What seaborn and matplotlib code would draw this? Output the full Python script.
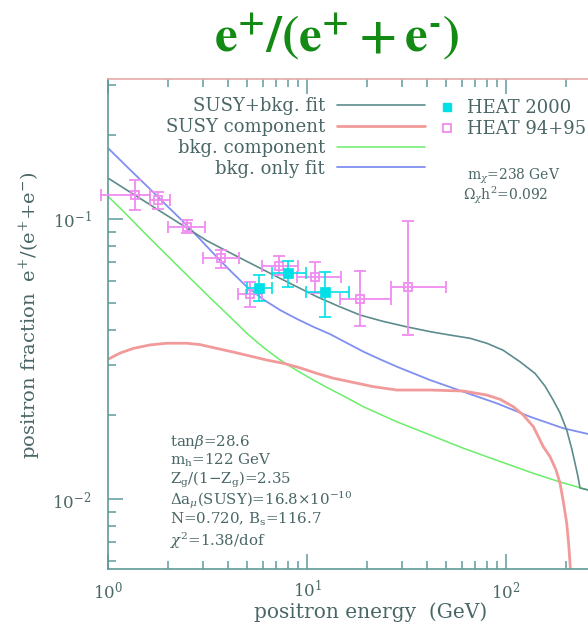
import numpy as np
import matplotlib
matplotlib.use("Agg")
import matplotlib.pyplot as plt
import seaborn as sns
from matplotlib.lines import Line2D
from matplotlib.ticker import LogLocator, LogFormatterMathtext, NullFormatter

# ---------------- data ----------------
fit_E = [1.0, 1.217, 1.504, 1.934, 2.466, 3.133, 4.607, 7.317, 11.19, 14.31, 18.46, 24.09,
         31.7, 41.5, 52.3, 65.9, 80.0, 96.6, 117.6, 139.8, 157.0, 172.3, 186.8, 201.8,
         214.6, 222.2, 230.0, 235.4, 258.2]
fit_frac = [0.140, 0.1281, 0.1165, 0.1040, 0.0933, 0.0837, 0.0726, 0.0614, 0.0528, 0.0489,
            0.0454, 0.0431, 0.0412, 0.0396, 0.0385, 0.0375, 0.0360, 0.0340, 0.0309, 0.0281,
            0.0253, 0.0226, 0.0203, 0.01764, 0.01496, 0.01341, 0.01199, 0.01095, 0.01077]

susy_E = [1.0, 1.149, 1.340, 1.626, 1.972, 2.486, 2.899, 3.518, 4.247, 5.171, 6.274, 7.604,
          9.222, 11.19, 13.56, 16.45, 21.46, 28.24, 41.5, 61.0, 80.0, 93.3, 108.8, 121.7,
          137.2, 153.9, 166.4, 178.3, 186.8, 194.5, 201.8, 206.1, 209.7, 212.1]
susy_frac = [0.03155, 0.0332, 0.0345, 0.0355, 0.0360, 0.0360, 0.0356, 0.0345, 0.0335, 0.0324,
             0.03135, 0.03053, 0.0294, 0.0281, 0.0270, 0.02623, 0.0252, 0.0245, 0.0245,
             0.0243, 0.02351, 0.0227, 0.02136, 0.0200, 0.01812, 0.01537, 0.01416, 0.0127,
             0.01138, 0.00968, 0.00819, 0.00697, 0.00589, 0.00493]

bkg_E = [1.0, 1.217, 1.448, 1.722, 2.049, 2.30, 2.791, 3.382, 4.104, 4.977, 6.03, 7.317,
         8.875, 10.76, 13.05, 15.83, 19.18, 28.24, 41.5, 61.0, 89.8, 137.2, 186.8, 258.2]
bkg_frac = [0.1205, 0.1051, 0.0926, 0.0818, 0.0724, 0.0667, 0.0583, 0.0510, 0.0447, 0.0391,
            0.0348, 0.0314, 0.0288, 0.0266, 0.0247, 0.0230, 0.02136, 0.01888, 0.01693,
            0.01518, 0.01375, 0.01235, 0.0115, 0.01077]

bkgonly_E = [1.0, 1.29, 1.626, 1.972, 2.39, 2.834, 3.382, 4.104, 4.977, 6.03, 7.317, 8.875,
             10.76, 13.05, 15.83, 19.18, 23.27, 28.24, 41.5, 61.0, 89.8, 132.0, 194.1, 258.2]
bkgonly_frac = [0.1793, 0.150, 0.1279, 0.1117, 0.0978, 0.0862, 0.0754, 0.0655, 0.0573, 0.0516,
                0.0473, 0.0440, 0.0412, 0.0388, 0.0361, 0.0336, 0.03155, 0.0297, 0.0266,
                0.02416, 0.02197, 0.01967, 0.01789, 0.01707]

heat9495_E = [1.37, 1.79, 2.48, 3.68, 5.17, 7.23, 10.97, 18.4, 32.3]
heat9495_frac = [0.122, 0.117, 0.094, 0.0724, 0.0538, 0.0681, 0.0619, 0.0519, 0.0570]
heat9495_Elo = [0.92, 1.63, 2.01, 3.0, 4.5, 5.95, 8.9, 14.6, 26.4]
heat9495_Ehi = [1.63, 2.05, 3.07, 4.55, 5.95, 9.0, 14.8, 26.4, 49.9]
heat9495_lo = [0.108, 0.109, 0.0891, 0.0667, 0.0486, 0.0631, 0.0544, 0.0415, 0.0386]
heat9495_hi = [0.138, 0.125, 0.0992, 0.0775, 0.0597, 0.0738, 0.0702, 0.0652, 0.0986]

heat2000_E = [5.76, 8.05, 12.3]
heat2000_frac = [0.0569, 0.064, 0.055]
heat2000_Elo = [4.97, 6.7, 9.85]
heat2000_Ehi = [6.7, 9.9, 16.3]
heat2000_lo = [0.0511, 0.057, 0.0448]
heat2000_hi = [0.0631, 0.071, 0.0648]

curve_labels = ["SUSY+bkg. fit", "SUSY component", "bkg. component", "bkg. only fit"]
data_labels = ["HEAT 2000", "HEAT 94+95"]
param_lines = [r"tan$\beta$=28.6", r"m$_{\rm h}$=122 GeV", r"Z$_{\rm g}$/(1$-$Z$_{\rm g}$)=2.35",
               r"$\Delta$a$_\mu$(SUSY)=16.8$\times$10$^{-10}$", r"N=0.720, B$_{\rm s}$=116.7",
               r"$\chi^2$=1.38/dof"]

# ---------------- style ----------------
sns.set_theme(style="white")
plt.rcParams['font.family'] = ['DejaVu Serif']
plt.rcParams['mathtext.fontset'] = 'dejavuserif'

TEXT = '#4a6666'
AXC = '#5f9a9a'
C_FIT = '#5d8c8c'
C_SUSY = '#f29a9a'
C_BKG = '#6aee6a'
C_ONLY = '#7f8ff2'
C_MAG = '#f08cf0'
C_CYAN = '#00e0e6'

W, H = 588, 626
fig = plt.figure(figsize=(W / 100, H / 100), dpi=100)
AX_L, AX_T, AX_B = 108, 79, 569
AX_W = 493
ax = fig.add_axes([AX_L / W, (H - AX_B) / H, AX_W / W, (AX_B - AX_T) / H])
ax.set_xscale('log')
ax.set_yscale('log')
ax.set_xlim(1, 300)
ax.set_ylim(10 ** -2.25, 10 ** -0.5)


def axpos(px, py):
    return ((px - AX_L) / AX_W, (AX_B - py) / (AX_B - AX_T))


# curves
sns.lineplot(x=bkg_E, y=bkg_frac, ax=ax, color=C_BKG, lw=1.1, sort=False, estimator=None)
sns.lineplot(x=bkgonly_E, y=bkgonly_frac, ax=ax, color=C_ONLY, lw=1.3, sort=False, estimator=None)
sns.lineplot(x=susy_E, y=susy_frac, ax=ax, color=C_SUSY, lw=2.0, sort=False, estimator=None)
sns.lineplot(x=fit_E, y=fit_frac, ax=ax, color=C_FIT, lw=1.2, sort=False, estimator=None)


def errs(v, lo, hi):
    v = np.asarray(v)
    return [v - np.asarray(lo), np.asarray(hi) - v]


eb = ax.errorbar(heat9495_E, heat9495_frac,
                 xerr=errs(heat9495_E, heat9495_Elo, heat9495_Ehi),
                 yerr=errs(heat9495_frac, heat9495_lo, heat9495_hi),
                 fmt='none', ecolor=C_MAG, elinewidth=1.3, capsize=4, capthick=1.3, zorder=3)
for part in eb.lines[1] + eb.lines[2]:
    part.set_clip_on(False)
sns.lineplot(x=heat9495_E, y=heat9495_frac, ax=ax, marker='s', linestyle='', markersize=6,
             markerfacecolor='none', markeredgecolor=C_MAG, markeredgewidth=1.3,
             sort=False, estimator=None, zorder=4)

ax.errorbar(heat2000_E, heat2000_frac,
            xerr=errs(heat2000_E, heat2000_Elo, heat2000_Ehi),
            yerr=errs(heat2000_frac, heat2000_lo, heat2000_hi),
            fmt='none', ecolor=C_CYAN, elinewidth=1.2, capsize=4, capthick=1.2, zorder=5)
sns.lineplot(x=heat2000_E, y=heat2000_frac, ax=ax, marker='s', linestyle='', markersize=6.5,
             markerfacecolor=C_CYAN, markeredgecolor=C_CYAN, markeredgewidth=0.5,
             sort=False, estimator=None, zorder=6)

# axes styling
for side in ['left', 'bottom']:
    ax.spines[side].set_color(AXC)
    ax.spines[side].set_linewidth(1.2)
ax.spines['top'].set_color('#e8a8a8')
ax.spines['top'].set_linewidth(1.2)
ax.spines['right'].set_visible(False)

ax.xaxis.set_major_locator(LogLocator(base=10, numticks=10))
ax.xaxis.set_minor_locator(LogLocator(base=10, subs=np.arange(2, 10), numticks=20))
ax.yaxis.set_major_locator(LogLocator(base=10, numticks=10))
ax.yaxis.set_minor_locator(LogLocator(base=10, subs=np.arange(2, 10), numticks=20))
ax.xaxis.set_major_formatter(LogFormatterMathtext())
ax.yaxis.set_major_formatter(LogFormatterMathtext())
ax.xaxis.set_minor_formatter(NullFormatter())
ax.yaxis.set_minor_formatter(NullFormatter())
ax.tick_params(which='both', direction='in', top=True, bottom=True, left=True, right=False,
               color=AXC, width=1.1, labelcolor=TEXT, labelsize=12)
ax.tick_params(which='major', length=11)
ax.tick_params(which='minor', length=5.5)
ax.tick_params(axis='x', which='major', pad=8)
ax.tick_params(axis='y', which='major', pad=12)

ax.set_xlabel('positron energy  (GeV)', fontsize=14.5, color=TEXT)
ax.xaxis.set_label_coords(*axpos(371, 602))
ax.set_ylabel(r'positron fraction  e$^{+}$/(e$^{+}$+e$^{-}$)', fontsize=14, color=TEXT)
ax.yaxis.set_label_coords(*axpos(43, 315))

# legends
curve_handles = [Line2D([], [], color=c, lw=lw) for c, lw in
                 [(C_FIT, 1.2), (C_SUSY, 2.0), (C_BKG, 1.1), (C_ONLY, 1.3)]]
leg1 = ax.legend(curve_handles, curve_labels, loc='center right', markerfirst=False,
                 bbox_to_anchor=(425 / W, 1 - 137.5 / H), bbox_transform=fig.transFigure,
                 frameon=False, borderpad=0, borderaxespad=0, handlelength=4.9,
                 handletextpad=0.65, labelspacing=0.15, prop={'size': 13})
for t in leg1.get_texts():
    t.set_color(TEXT)
ax.add_artist(leg1)

data_handles = [Line2D([], [], linestyle='', marker='s', markersize=6, markerfacecolor=C_CYAN,
                       markeredgecolor=C_CYAN),
                Line2D([], [], linestyle='', marker='s', markersize=6, markerfacecolor='none',
                       markeredgecolor=C_MAG, markeredgewidth=1.3)]
leg2 = ax.legend(data_handles, data_labels, loc='center left',
                 bbox_to_anchor=(438 / W, 1 - 118.8 / H), bbox_transform=fig.transFigure,
                 frameon=False, borderpad=0, borderaxespad=0, handlelength=0.95,
                 handletextpad=0.65, labelspacing=0.15, prop={'size': 13})
for t in leg2.get_texts():
    t.set_color(TEXT)

# annotations
ax.text(*axpos(466.7, 180), r'm$_\chi$=238 GeV', transform=ax.transAxes, fontsize=10,
        color=TEXT, va='baseline', ha='left')
ax.text(*axpos(463, 200), r'$\Omega_\chi$h$^2$=0.092', transform=ax.transAxes, fontsize=10,
        color=TEXT, va='baseline', ha='left')
for line, base in zip(param_lines, [446, 465, 484, 504.5, 524, 546]):
    ax.text(*axpos(169.5, base), line, transform=ax.transAxes, fontsize=10.8,
            color=TEXT, va='baseline', ha='left')

# title
fig.text(337 / W, 1 - 38 / H, '$\\mathbf{e^{+}/(e^{+}+e^{\u2010})}$', ha='center', va='center',
         fontsize=37, color='#138a13', math_fontfamily='stix')

fig.savefig('out.png', dpi=100)
